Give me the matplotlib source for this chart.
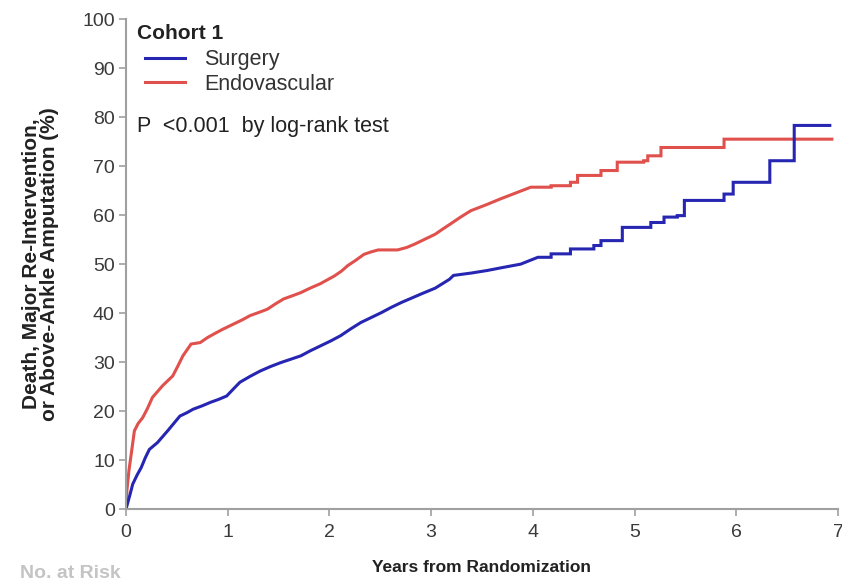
import matplotlib.pyplot as plt
import numpy as np

plt.rcParams['font.family'] = ['Liberation Sans', 'DejaVu Sans']

# cumulative incidence (%) by years from randomization
endo_t = [0, 0.01, 0.03, 0.05, 0.083, 0.12, 0.165, 0.21, 0.26, 0.31,
          0.36, 0.41, 0.46, 0.51, 0.56, 0.60, 0.64, 0.73, 0.80, 0.86,
          0.95, 1.06, 1.14, 1.22, 1.30, 1.39, 1.47, 1.55, 1.63, 1.72,
          1.81, 1.91, 1.98, 2.05, 2.12, 2.18, 2.26, 2.34, 2.41, 2.48,
          2.67, 2.76, 2.84, 2.94, 3.04, 3.11, 3.19, 3.29, 3.39, 3.54,
          3.68, 3.83, 3.98, 4.18, 4.37, 4.44, 4.67, 4.83, 5.09, 5.13,
          5.26, 5.88, 6.94]
endo_v = [0, 4, 8, 11, 16, 17.5, 18.7, 20.5, 22.8, 24,
          25.2, 26.2, 27.2, 29.2, 31.3, 32.5, 33.7, 34, 35, 35.7,
          36.7, 37.8, 38.6, 39.5, 40.1, 40.8, 41.9, 42.9, 43.5, 44.2,
          45.1, 46, 46.8, 47.6, 48.6, 49.7, 50.8, 52, 52.5, 52.9,
          52.9, 53.4, 54.1, 55.1, 56.1, 57.1, 58.2, 59.6, 60.9, 62.1,
          63.3, 64.5, 65.7, 66, 66.7, 68.1, 69.1, 70.8, 71.1, 72.1,
          73.8, 75.5, 75.5]

surg_t = [0, 0.02, 0.04, 0.066, 0.11, 0.15, 0.19, 0.23, 0.31, 0.36,
          0.41, 0.47, 0.53, 0.6, 0.66, 0.75, 0.83, 0.91, 0.99, 1.05,
          1.12, 1.22, 1.32, 1.42, 1.52, 1.62, 1.72, 1.81, 1.91, 2.01,
          2.11, 2.21, 2.31, 2.41, 2.51, 2.61, 2.71, 2.80, 2.90, 2.97,
          3.04, 3.11, 3.18, 3.22, 3.4, 3.55, 3.7, 3.88, 4.05, 4.18,
          4.37, 4.6, 4.67, 4.88, 5.16, 5.29, 5.42, 5.49, 5.88, 5.97,
          6.33, 6.57, 6.92]
surg_v = [0, 1.5, 3, 5.1, 7, 8.5, 10.5, 12.2, 13.6, 14.8,
          16, 17.5, 19, 19.7, 20.4, 21.1, 21.8, 22.4, 23.1, 24.4,
          25.9, 27.1, 28.2, 29.1, 29.9, 30.6, 31.3, 32.3, 33.3, 34.3,
          35.4, 36.8, 38.1, 39.1, 40.1, 41.2, 42.2, 43.0, 43.9, 44.5,
          45.1, 46, 46.9, 47.7, 48.2, 48.7, 49.3, 50, 51.4, 52.1,
          53.1, 53.8, 54.8, 57.5, 58.5, 59.6, 59.9, 63, 64.3, 66.7,
          71.1, 78.3, 78.3]

x_ticks = np.arange(0, 8)
y_ticks = np.arange(0, 101, 10)

BLUE = '#2626b2'
RED = '#e0504c'


def km_path(t, v, step_from=4.1):
    # many small events early on -> draw straight; sparse events later -> stair steps
    xs, ys = [t[0]], [v[0]]
    for i in range(1, len(t)):
        if t[i] >= step_from:
            xs.append(t[i])
            ys.append(v[i - 1])
        xs.append(t[i])
        ys.append(v[i])
    return xs, ys


fig = plt.figure(figsize=(8.42, 5.78), dpi=100)
ax = fig.add_axes([0.1496, 0.119, 0.8456, 0.848])

ex, ey = km_path(endo_t, endo_v)
sx, sy = km_path(surg_t, surg_v)
l_endo, = ax.plot(ex, ey, color=RED, lw=2.2, solid_joinstyle='miter')
l_surg, = ax.plot(sx, sy, color=BLUE, lw=2.2, solid_joinstyle='miter')

ax.set_xlim(0, 7)
ax.set_ylim(0, 100)
ax.set_xticks(x_ticks)
ax.set_yticks(y_ticks)
for s in ['top', 'right']:
    ax.spines[s].set_visible(False)
for s in ['left', 'bottom']:
    ax.spines[s].set_color('#a0a0a0')
    ax.spines[s].set_linewidth(1.5)
ax.tick_params(colors='#a0a0a0', labelcolor='#3a3a3a', labelsize=14, length=5, width=1.2)
ax.tick_params(axis='x', pad=6)
ax.tick_params(axis='y', pad=3)

ax.set_xlabel('Years from Randomization', fontsize=12.5, fontweight='bold', color='#222222',
              labelpad=13)
ax.set_ylabel('Death, Major Re-Intervention,\nor Above-Ankle Amputation (%)', fontsize=15,
              fontweight='bold', color='#222222', labelpad=17, linespacing=0.92)

ax.text(0.0155, 0.971, 'Cohort 1', transform=ax.transAxes, fontsize=15, fontweight='bold',
        color='#222222', va='center')
leg = ax.legend([l_surg, l_endo], ['Surgery', 'Endovascular'], loc='upper left',
                bbox_to_anchor=(0.027, 0.938), frameon=False, fontsize=15.5, handlelength=1.85,
                handletextpad=0.9, labelspacing=0.15, borderpad=0.0, borderaxespad=0.0)
for t in leg.get_texts():
    t.set_color('#333333')

ax.text(0.0155, 78, 'P  <0.001  by log-rank test', transform=ax.get_yaxis_transform(),
        fontsize=15.5, color='#222222', va='center')

fig.text(0.024, 0.022, 'No. at Risk', fontsize=14, fontweight='bold', color='#c4c4c4', va='top')

fig.savefig('out.png', dpi=100)
